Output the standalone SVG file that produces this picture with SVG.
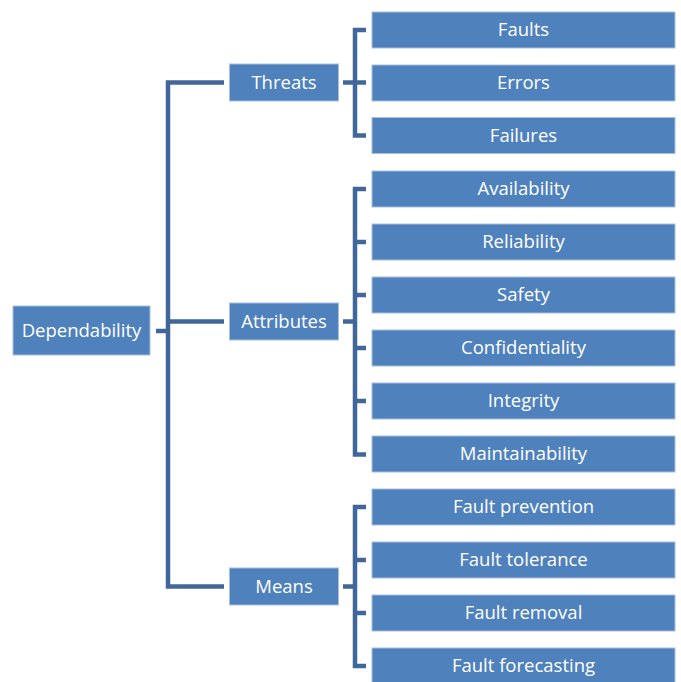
<svg xmlns="http://www.w3.org/2000/svg" width="681" height="682" viewBox="0 0 681 682">
<style>
.box{fill:#4f81bd;stroke:#a9bfdd;stroke-width:1}
.t{fill:#ffffff;font-family:"Open Sans","Liberation Sans",sans-serif;font-size:18.5px;text-anchor:middle}
.c{fill:none;stroke:#41679a;stroke-width:4.5;stroke-linejoin:miter;stroke-linecap:butt}
</style>
<rect width="681" height="682" fill="#ffffff"/>
<g id="connectors">
<path class="c" d="M156,331 H168"/>
<path class="c" d="M224,82.5 H168 V586.5 H224"/>
<path class="c" d="M168,321.5 H224"/>
<path class="c" d="M343,82.5 H366"/>
<path class="c" d="M366,30 H355 V135.5 H366"/>
<path class="c" d="M343,321.5 H355"/>
<path class="c" d="M366,189 H355 V454.5 H366 M355,242 H366 M355,295 H366 M355,348 H366 M355,401 H366"/>
<path class="c" d="M343,586.5 H355"/>
<path class="c" d="M366,507 H355 V666 H366 M355,560 H366 M355,613 H366"/>
</g>
<g id="dependability"><rect class="box" x="13" y="306" width="137" height="49"/><text class="t" x="81.5" y="337">Dependability</text></g>
<g id="threats"><rect class="box" x="229.5" y="64" width="109" height="37"/><text class="t" x="284" y="88.5">Threats</text></g>
<g id="attributes"><rect class="box" x="229.5" y="303" width="109" height="37"/><text class="t" x="284" y="327.5">Attributes</text></g>
<g id="means"><rect class="box" x="229.5" y="568" width="109" height="37"/><text class="t" x="284" y="592.5">Means</text></g>
<g id="faults"><rect class="box" x="372" y="12" width="303" height="36"/><text class="t" x="523.5" y="36">Faults</text></g>
<g id="errors"><rect class="box" x="372" y="65" width="303" height="36"/><text class="t" x="523.5" y="89">Errors</text></g>
<g id="failures"><rect class="box" x="372" y="117.5" width="303" height="36"/><text class="t" x="523.5" y="141.5">Failures</text></g>
<g id="availability"><rect class="box" x="372" y="171" width="303" height="36"/><text class="t" x="523.5" y="195">Availability</text></g>
<g id="reliability"><rect class="box" x="372" y="224" width="303" height="36"/><text class="t" x="523.5" y="248">Reliability</text></g>
<g id="safety"><rect class="box" x="372" y="277" width="303" height="36"/><text class="t" x="523.5" y="301">Safety</text></g>
<g id="confidentiality"><rect class="box" x="372" y="330" width="303" height="36"/><text class="t" x="523.5" y="354">Confidentiality</text></g>
<g id="integrity"><rect class="box" x="372" y="383" width="303" height="36"/><text class="t" x="523.5" y="407">Integrity</text></g>
<g id="maintainability"><rect class="box" x="372" y="436" width="303" height="36"/><text class="t" x="523.5" y="460">Maintainability</text></g>
<g id="fault-prevention"><rect class="box" x="372" y="489" width="303" height="36"/><text class="t" x="523.5" y="513">Fault prevention</text></g>
<g id="fault-tolerance"><rect class="box" x="372" y="542" width="303" height="36"/><text class="t" x="523.5" y="566">Fault tolerance</text></g>
<g id="fault-removal"><rect class="box" x="372" y="595" width="303" height="36"/><text class="t" x="523.5" y="619">Fault removal</text></g>
<g id="fault-forecasting"><rect class="box" x="372" y="648" width="303" height="36"/><text class="t" x="523.5" y="672">Fault forecasting</text></g>
</svg>
